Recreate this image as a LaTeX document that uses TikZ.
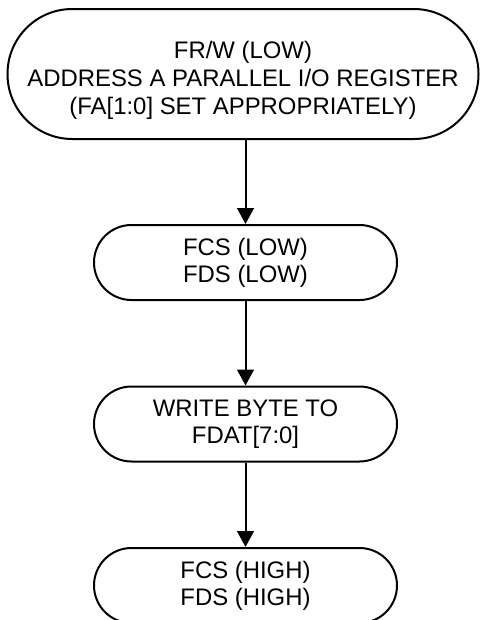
\documentclass[tikz,border=0pt]{standalone}
\usepackage{fontspec}
\setmainfont{Liberation Sans}
\usepackage{tikz}
\usetikzlibrary{arrows.meta, positioning}
\tikzset{
  stadium/.style={rectangle, draw=black, fill=white,
    minimum width=7.575cm, minimum height=1.875cm, inner sep=0pt,
    align=center, rounded corners=0.9375cm, line width=0.05cm,
    font=\fontsize{17pt}{19.3pt}\selectfont},
  bigstadium/.style={stadium, minimum width=11.775cm,
    minimum height=3.25cm, rounded corners=1.62cm,
    font=\fontsize{17pt}{19.9pt}\selectfont},
  arrow/.style={-{Triangle[length=0.4cm, width=0.42cm]}, line width=0.05cm, color=black}
}
\begin{document}
\begin{tikzpicture}
  \useasboundingbox (0,0) rectangle (11.975,-15.5);

  % Steps
  \node[bigstadium] (addr) at (6.075,-1.85) {\rule{0pt}{0.75cm}FR/W (LOW)\\ADDRESS A PARALLEL I/O REGISTER\\(FA[1:0] SET APPROPRIATELY)};
  \node[stadium] (strobelow) at (6.1375,-6.5625) {FCS (LOW)\\FDS (LOW)};
  \node[stadium] (writebyte) at (6.1375,-10.6) {WRITE BYTE TO\\FDAT[7:0]};
  \node[stadium] (strobehigh) at (6.1375,-14.6375) {FCS (HIGH)\\FDS (HIGH)};

  % Flow
  \draw[arrow] (addr.south -| strobelow.north) -- (strobelow.north);
  \draw[arrow] (strobelow) -- (writebyte);
  \draw[arrow] (writebyte) -- (strobehigh);
\end{tikzpicture}
\end{document}
